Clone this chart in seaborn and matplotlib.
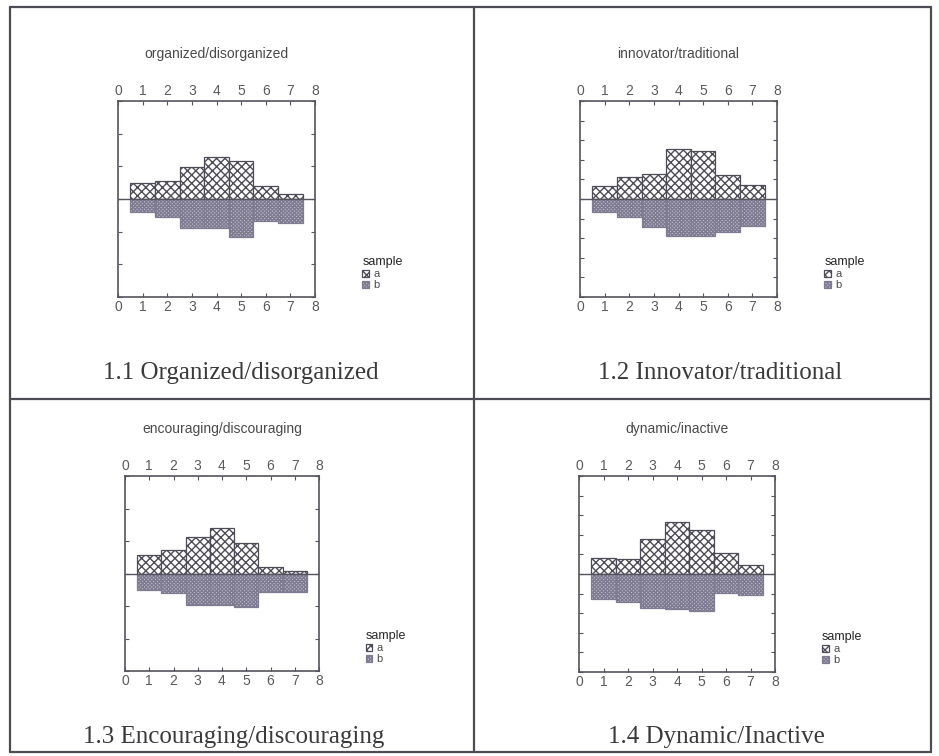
import numpy as np
import pandas as pd
import matplotlib.pyplot as plt
import seaborn as sns
from matplotlib.lines import Line2D

# Score categories (1..7) and relative frequencies for samples a (up) and b (down)
scores = [1, 2, 3, 4, 5, 6, 7]

org_a = [0.097, 0.112, 0.193, 0.258, 0.233, 0.077, 0.032]
org_b = [0.079, 0.110, 0.177, 0.177, 0.231, 0.136, 0.146]

inn_a = [0.068, 0.113, 0.130, 0.257, 0.245, 0.123, 0.073]
inn_b = [0.068, 0.093, 0.144, 0.191, 0.191, 0.166, 0.140]

enc_a = [0.113, 0.144, 0.226, 0.281, 0.185, 0.037, 0.016]
enc_b = [0.103, 0.123, 0.191, 0.191, 0.205, 0.113, 0.113]

dyn_a = [0.084, 0.076, 0.178, 0.266, 0.227, 0.106, 0.045]
dyn_b = [0.126, 0.141, 0.171, 0.180, 0.188, 0.099, 0.106]

titles = ['organized/disorganized', 'innovator/traditional',
          'encouraging/discouraging', 'dynamic/inactive']
captions = ['1.1 Organized/disorganized', '1.2 Innovator/traditional',
            '1.3 Encouraging/discouraging', '1.4 Dynamic/Inactive']
y_limits = [0.6, 0.5, 0.6, 0.5]
y_steps = [0.2, 0.1, 0.2, 0.1]

W, H = 939, 756
# plot boxes in pixels: x0, x1, y0 (top), y1 (bottom)
boxes = [(118, 315, 101, 297), (580, 777, 101, 297),
         (125, 319, 476, 671), (579, 775, 476, 672)]
caption_pos = [(241, 373), (720, 373), (234, 737), (716, 737)]

sns.set_theme(style='white')
plt.rcParams['font.family'] = ['Liberation Sans', 'DejaVu Sans']
plt.rcParams['hatch.linewidth'] = 1.0

line_col = '#55535e'
text_col = '#4a4a4a'

fig = plt.figure(figsize=(W / 100, H / 100), dpi=100)

series = [(org_a, org_b), (inn_a, inn_b), (enc_a, enc_b), (dyn_a, dyn_b)]

for i, (a_vals, b_vals) in enumerate(series):
    x0, x1, y0, y1 = boxes[i]
    ax = fig.add_axes([x0 / W, 1 - y1 / H, (x1 - x0) / W, (y1 - y0) / H])

    df = pd.DataFrame({
        'score': scores * 2,
        'value': list(a_vals) + [-v for v in b_vals],
        'sample': ['a'] * len(scores) + ['b'] * len(scores),
    })
    sns.barplot(data=df, x='score', y='value', hue='sample', native_scale=True,
                width=1, dodge=False, errorbar=None, legend=False,
                palette=['white', '#c6c1d3'], ax=ax)

    # coarse crosshatch for sample a, dense crosshatch for sample b
    for bar in ax.containers[0]:
        bar.set_facecolor('white')
        bar.set_edgecolor('#4e4c58')
        bar.set_hatch('xxxx')
        bar.set_linewidth(0.9)
    for bar in ax.containers[1]:
        bar.set_facecolor('#c6c1d3')
        bar.set_edgecolor('#7f7b90')
        bar.set_hatch('x' * 9)
        bar.set_linewidth(0.9)

    ax.axhline(0, color=line_col, lw=1.0, zorder=3)

    lim = y_limits[i]
    ax.set_xlim(0, 8)
    ax.set_ylim(-lim, lim)
    ax.set_xticks(range(0, 9))
    ax.set_xticklabels([str(k) for k in range(0, 9)])
    ax.set_yticks(np.arange(-lim, lim + 1e-9, y_steps[i]))
    ax.set_xlabel('')
    ax.set_ylabel('')
    ax.tick_params(axis='x', top=True, bottom=True, labeltop=True, labelbottom=True,
                   direction='in', length=3, width=0.8, pad=2, labelsize=10,
                   color=line_col, labelcolor='#5a5a5a')
    ax.tick_params(axis='y', left=True, right=True, labelleft=False,
                   direction='in', length=3, width=0.8, color=line_col)
    for sp in ax.spines.values():
        sp.set_color(line_col)
        sp.set_linewidth(1.2)

    ax.text(0.5, 1.24, titles[i], transform=ax.transAxes, ha='center', va='center',
            fontsize=10, color=text_col)

    ax.legend(handles=[ax.containers[0], ax.containers[1]], labels=['a', 'b'],
              title='sample', loc='upper left', bbox_to_anchor=(1.24, 0.21),
              frameon=False, fontsize=8, title_fontsize=9, handlelength=0.6,
              handleheight=0.6, handletextpad=0.4, labelspacing=0.1,
              borderpad=0, borderaxespad=0, alignment='left', labelcolor=text_col)

    cx, cy = caption_pos[i]
    fig.text(cx / W, 1 - cy / H, captions[i], ha='center', va='center',
             fontsize=18, family=['Liberation Serif', 'DejaVu Serif'], color='#3a3a3a')

# table grid around the four panels
grid_col = '#4d4b55'
left, right, top, bottom = 10, 931, 7, 752
xmid, ymid = 474, 399
segments = [((left, right), (top, top)), ((left, right), (bottom, bottom)),
            ((left, left), (top, bottom)), ((right, right), (top, bottom)),
            ((xmid, xmid), (top, bottom)), ((left, right), (ymid, ymid))]
for xs, ys in segments:
    fig.add_artist(Line2D([x / W for x in xs], [1 - y / H for y in ys],
                          color=grid_col, lw=1.6))

fig.savefig('out.png', dpi=100, facecolor='white')
